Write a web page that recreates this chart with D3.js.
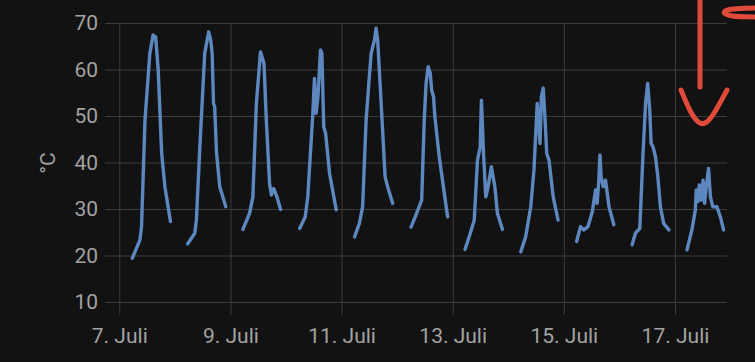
<!DOCTYPE html>
<html>
<head>
<meta charset="utf-8">
<script src="https://cdn.jsdelivr.net/npm/d3@7"></script>
<style>
  html, body { margin: 0; padding: 0; background: #121212; }
  svg { display: block; }
  text { font-family: Roboto, "Noto Sans", sans-serif; }
</style>
</head>
<body>
<svg id="chart" width="755" height="362"></svg>
<script>
// ---- data ----
const readingDay = [
  7,7,7,7,7,7,7,7,7,7,7,7,
  8,8,8,8,8,8,8,8,8,8,8,8,8,
  9,9,9,9,9,9,9,9,9,9,9,9,
  10,10,10,10,10,10,10,10,10,10,10,10,10,
  11,11,11,11,11,11,11,11,11,11,11,11,11,
  12,12,12,12,12,12,12,12,12,12,12,12,
  13,13,13,13,13,13,13,13,13,13,13,13,13,
  14,14,14,14,14,14,14,14,14,14,14,14,14,14,
  15,15,15,15,15,15,15,15,15,15,15,15,15,15,
  16,16,16,16,16,16,16,16,16,16,16,16,16,16,
  17,17,17,17,17,17,17,17,17,17,17,17,17,17,17,17
];
const readingHour = [
  5.6,8.9,9.6,10.4,11.1,13.2,14.6,15.7,16.8,18.3,19.7,22.1,
  5.5,8.6,9.3,10.8,12.9,14.6,15.5,16.1,16.7,17.2,18.0,19.4,22.0,
  5.4,8.3,9.7,11.2,13.0,14.5,15.5,16.9,17.7,18.7,20.1,21.7,
  5.9,8.3,9.4,11.6,12.3,13.0,13.8,14.9,15.5,16.3,17.1,18.8,21.7,
  5.6,7.7,9.1,10.6,12.0,12.8,14.2,14.9,15.6,17.1,18.8,19.9,22.1,
  6.0,8.1,10.6,11.7,12.5,13.4,14.3,14.9,15.7,16.3,18.2,21.8,
  5.3,7.1,9.3,10.7,11.9,12.4,13.3,14.3,15.3,16.7,18.2,19.3,21.5,
  5.4,7.5,9.7,11.1,12.5,13.3,13.7,14.3,15.1,15.9,16.6,17.6,19.4,21.5,
  5.5,7.2,8.7,10.4,12.3,13.7,14.4,15.1,15.6,16.1,17.0,18.0,19.5,21.6,
  5.5,6.9,8.8,10.2,11.3,12.2,13.1,13.7,14.5,15.6,16.6,17.7,19.1,21.4,
  5.2,7.3,8.8,9.2,9.9,10.5,11.4,12.1,12.8,13.5,14.5,15.3,16.3,18.1,19.6,21.0
];
const readingTemp = [
  19.4,23.3,26.2,38.4,49.1,63.5,67.4,67.0,59.9,42.0,34.8,27.3,
  22.5,24.8,27.6,43.4,63.5,68.1,66.3,63.5,52.7,52.0,42.0,34.8,30.5,
  25.6,29.1,32.6,52.7,63.8,61.3,49.1,35.5,33.0,34.4,32.6,29.9,
  25.8,28.3,32.6,50.6,58.1,50.6,54.2,64.2,63.5,47.7,46.3,37.7,29.8,
  24.0,26.9,30.5,49.1,58.5,63.5,66.3,68.9,66.3,52.7,36.9,34.8,31.2,
  26.1,28.7,31.9,49.1,57.0,60.6,59.2,55.6,54.2,49.8,41.2,28.3,
  21.3,24.0,27.6,40.5,43.4,53.4,42.0,32.6,34.8,39.1,34.8,29.1,25.6,
  20.8,24.0,30.5,38.4,52.7,47.0,44.1,54.2,56.0,49.1,42.0,40.5,32.6,27.6,
  23.0,26.2,25.5,26.2,29.4,34.1,31.2,36.2,41.6,36.9,34.8,36.2,30.5,26.6,
  22.3,24.8,25.8,42.0,52.7,57.0,51.3,44.1,43.4,41.2,36.9,30.5,26.9,25.5,
  21.2,25.5,29.8,34.1,31.6,35.2,31.9,36.2,31.2,34.8,38.7,32.6,30.5,30.5,28.3,25.5
];
const yTicks = [10, 20, 30, 40, 50, 60, 70];
const xTickDays = [7, 9, 11, 13, 15, 17];
const xTickLabels = ["7. Juli", "9. Juli", "11. Juli", "13. Juli", "15. Juli", "17. Juli"];
const yLabel = "°C";

// ---- layout ----
const svg = d3.select("#chart");
const plotLeft = 113, plotRight = 727, plotTop = 23, plotBottom = 302;
const gridLeft = 105, tickBottom = 315;

const toDate = (day, hour) => new Date(2024, 6, day, 0, Math.round(hour * 60));
const x = d3.scaleTime()
  .domain([toDate(6, 21.28), toDate(17, 22.46)])
  .range([plotLeft, plotRight]);
const y = d3.scaleLinear().domain([10, 70]).range([plotBottom, plotTop]);

const gridColor = "#3c3c3c";
const textColor = "#a2a2a2";

// Y axis + horizontal grid
const yAxis = svg.append("g")
  .attr("transform", `translate(${plotRight},0)`)
  .call(d3.axisLeft(y).tickValues(yTicks).tickSize(plotRight - gridLeft).tickPadding(7).tickFormat(d3.format("d")));
yAxis.select(".domain").remove();
yAxis.selectAll("line").attr("stroke", gridColor);
yAxis.selectAll("text").attr("fill", textColor).style("font-size", "21px");

// X axis + vertical grid
const xTickDates = xTickDays.map(d => toDate(d, 0));
const xAxis = svg.append("g")
  .attr("transform", `translate(0,${plotTop})`)
  .call(d3.axisBottom(x).tickValues(xTickDates).tickSize(tickBottom - plotTop).tickPadding(13)
    .tickFormat((d, i) => xTickLabels[i]));
xAxis.select(".domain").remove();
xAxis.selectAll("line").attr("stroke", gridColor);
xAxis.selectAll("text").attr("fill", textColor).style("font-size", "21px");

// Y label
svg.append("text")
  .attr("transform", "translate(55,163) rotate(-90)")
  .attr("text-anchor", "middle")
  .attr("fill", textColor)
  .style("font-size", "21px")
  .text(yLabel);

// Line, one segment per day (gaps overnight)
const points = readingDay.map((d, i) => ({ t: toDate(d, readingHour[i]), v: readingTemp[i], day: d }));
const segments = d3.groups(points, p => p.day);
const line = d3.line().x(p => x(p.t)).y(p => y(p.v));
svg.append("g").selectAll("path")
  .data(segments)
  .join("path")
  .attr("d", s => line(s[1]))
  .attr("fill", "none")
  .attr("stroke", "#5c88bf")
  .attr("stroke-width", 3.4)
  .attr("stroke-linejoin", "round")
  .attr("stroke-linecap", "round");

// Hand-drawn red annotation
const scribbles = [
  [[700, -3], [700, 40], [700, 87]],
  [[681, 90], [686, 102], [692, 115], [699, 124], [706, 124], [714, 114], [721, 101], [727, 90]],
  [[760, 8], [745, 8], [730, 9], [722, 12], [728, 16], [745, 17], [760, 17]]
];
const pen = d3.line().curve(d3.curveBasis);
svg.append("g").selectAll("path")
  .data(scribbles)
  .join("path")
  .attr("d", pen)
  .attr("fill", "none")
  .attr("stroke", "#e04a3a")
  .attr("stroke-width", 5)
  .attr("stroke-linecap", "round")
  .attr("stroke-linejoin", "round");
</script>
</body>
</html>
